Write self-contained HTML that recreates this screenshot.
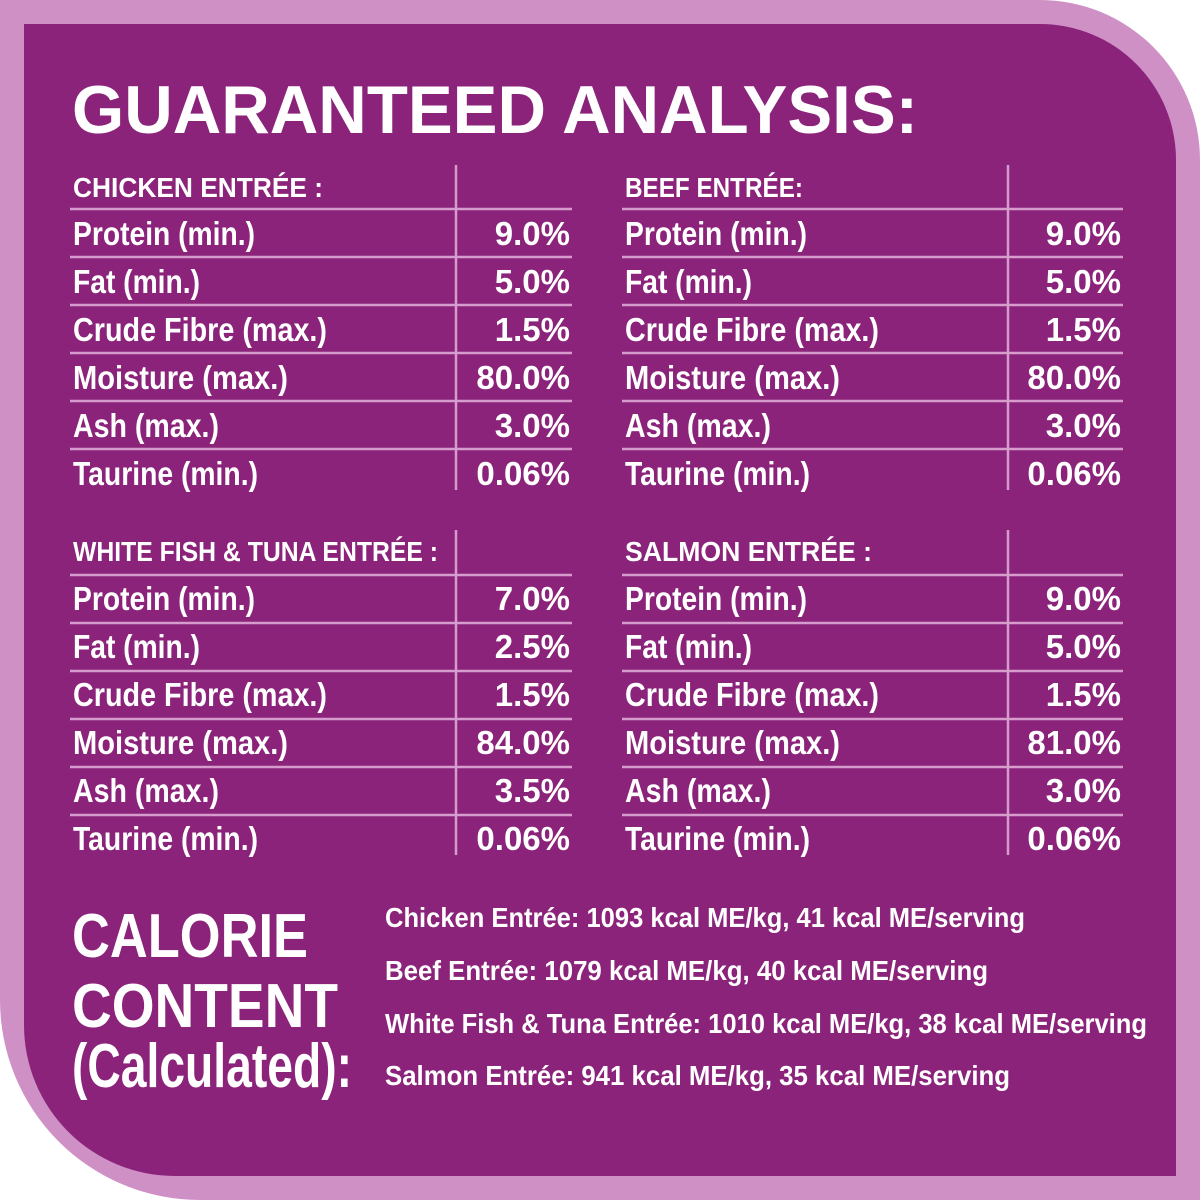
<!DOCTYPE html>
<html><head><meta charset="utf-8"><style>
html,body{margin:0;padding:0;background:#fff;}
svg{display:block;}
text{font-family:"Liberation Sans",sans-serif;fill:#fff;font-weight:bold;}
</style></head><body>
<svg width="1200" height="1200" viewBox="0 0 1200 1200" xmlns="http://www.w3.org/2000/svg">
<path d="M0,0 H1040 A160,160 0 0 1 1200,160 V1200 H200 A200,200 0 0 1 0,1000 Z" fill="#cf90c6"/>
<path d="M24,24 H1040 A136,136 0 0 1 1176,160 V1176 H175 A151,151 0 0 1 24,1025 Z" fill="#8b237a"/>
<text x="72" y="133" font-size="68" textLength="846" lengthAdjust="spacingAndGlyphs">GUARANTEED ANALYSIS:</text>
<g stroke="#d69bcd" stroke-width="2.5">
<line x1="456" y1="165" x2="456" y2="490"/><line x1="1008" y1="165" x2="1008" y2="490"/>
<line x1="456" y1="530" x2="456" y2="855"/><line x1="1008" y1="530" x2="1008" y2="855"/>
<line x1="70" y1="209" x2="572" y2="209"/><line x1="70" y1="257" x2="572" y2="257"/><line x1="70" y1="305" x2="572" y2="305"/><line x1="70" y1="353" x2="572" y2="353"/><line x1="70" y1="401" x2="572" y2="401"/><line x1="70" y1="449" x2="572" y2="449"/>
<line x1="622" y1="209" x2="1123" y2="209"/><line x1="622" y1="257" x2="1123" y2="257"/><line x1="622" y1="305" x2="1123" y2="305"/><line x1="622" y1="353" x2="1123" y2="353"/><line x1="622" y1="401" x2="1123" y2="401"/><line x1="622" y1="449" x2="1123" y2="449"/>
<line x1="70" y1="575" x2="572" y2="575"/><line x1="70" y1="623" x2="572" y2="623"/><line x1="70" y1="671" x2="572" y2="671"/><line x1="70" y1="719" x2="572" y2="719"/><line x1="70" y1="767" x2="572" y2="767"/><line x1="70" y1="815" x2="572" y2="815"/>
<line x1="622" y1="575" x2="1123" y2="575"/><line x1="622" y1="623" x2="1123" y2="623"/><line x1="622" y1="671" x2="1123" y2="671"/><line x1="622" y1="719" x2="1123" y2="719"/><line x1="622" y1="767" x2="1123" y2="767"/><line x1="622" y1="815" x2="1123" y2="815"/>
</g>
<g font-size="28">
<text x="73" y="197" textLength="250" lengthAdjust="spacingAndGlyphs">CHICKEN ENTRÉE :</text>
<text x="625" y="197" textLength="178" lengthAdjust="spacingAndGlyphs">BEEF ENTRÉE:</text>
<text x="73" y="561" textLength="365" lengthAdjust="spacingAndGlyphs">WHITE FISH &amp; TUNA ENTRÉE :</text>
<text x="625" y="561" textLength="247" lengthAdjust="spacingAndGlyphs">SALMON ENTRÉE :</text>
</g>
<g font-size="33">
<text x="73" y="245" textLength="182" lengthAdjust="spacingAndGlyphs">Protein (min.)</text>
<text x="73" y="293" textLength="127" lengthAdjust="spacingAndGlyphs">Fat (min.)</text>
<text x="73" y="341" textLength="254" lengthAdjust="spacingAndGlyphs">Crude Fibre (max.)</text>
<text x="73" y="389" textLength="215" lengthAdjust="spacingAndGlyphs">Moisture (max.)</text>
<text x="73" y="437" textLength="146" lengthAdjust="spacingAndGlyphs">Ash (max.)</text>
<text x="73" y="485" textLength="185" lengthAdjust="spacingAndGlyphs">Taurine (min.)</text>
<text x="625" y="245" textLength="182" lengthAdjust="spacingAndGlyphs">Protein (min.)</text>
<text x="625" y="293" textLength="127" lengthAdjust="spacingAndGlyphs">Fat (min.)</text>
<text x="625" y="341" textLength="254" lengthAdjust="spacingAndGlyphs">Crude Fibre (max.)</text>
<text x="625" y="389" textLength="215" lengthAdjust="spacingAndGlyphs">Moisture (max.)</text>
<text x="625" y="437" textLength="146" lengthAdjust="spacingAndGlyphs">Ash (max.)</text>
<text x="625" y="485" textLength="185" lengthAdjust="spacingAndGlyphs">Taurine (min.)</text>
<text x="73" y="610" textLength="182" lengthAdjust="spacingAndGlyphs">Protein (min.)</text>
<text x="73" y="658" textLength="127" lengthAdjust="spacingAndGlyphs">Fat (min.)</text>
<text x="73" y="706" textLength="254" lengthAdjust="spacingAndGlyphs">Crude Fibre (max.)</text>
<text x="73" y="754" textLength="215" lengthAdjust="spacingAndGlyphs">Moisture (max.)</text>
<text x="73" y="802" textLength="146" lengthAdjust="spacingAndGlyphs">Ash (max.)</text>
<text x="73" y="850" textLength="185" lengthAdjust="spacingAndGlyphs">Taurine (min.)</text>
<text x="625" y="610" textLength="182" lengthAdjust="spacingAndGlyphs">Protein (min.)</text>
<text x="625" y="658" textLength="127" lengthAdjust="spacingAndGlyphs">Fat (min.)</text>
<text x="625" y="706" textLength="254" lengthAdjust="spacingAndGlyphs">Crude Fibre (max.)</text>
<text x="625" y="754" textLength="215" lengthAdjust="spacingAndGlyphs">Moisture (max.)</text>
<text x="625" y="802" textLength="146" lengthAdjust="spacingAndGlyphs">Ash (max.)</text>
<text x="625" y="850" textLength="185" lengthAdjust="spacingAndGlyphs">Taurine (min.)</text>
</g>
<g font-size="33" text-anchor="end">
<text x="570" y="245">9.0%</text><text x="570" y="293">5.0%</text><text x="570" y="341">1.5%</text><text x="570" y="389">80.0%</text><text x="570" y="437">3.0%</text><text x="570" y="485">0.06%</text>
<text x="1121" y="245">9.0%</text><text x="1121" y="293">5.0%</text><text x="1121" y="341">1.5%</text><text x="1121" y="389">80.0%</text><text x="1121" y="437">3.0%</text><text x="1121" y="485">0.06%</text>
<text x="570" y="610">7.0%</text><text x="570" y="658">2.5%</text><text x="570" y="706">1.5%</text><text x="570" y="754">84.0%</text><text x="570" y="802">3.5%</text><text x="570" y="850">0.06%</text>
<text x="1121" y="610">9.0%</text><text x="1121" y="658">5.0%</text><text x="1121" y="706">1.5%</text><text x="1121" y="754">81.0%</text><text x="1121" y="802">3.0%</text><text x="1121" y="850">0.06%</text>
</g>
<g font-size="62">
<text x="72" y="957" textLength="236" lengthAdjust="spacingAndGlyphs">CALORIE</text>
<text x="72" y="1027" textLength="266" lengthAdjust="spacingAndGlyphs">CONTENT</text>
<text x="72" y="1087" textLength="280" lengthAdjust="spacingAndGlyphs">(Calculated):</text>
</g>
<g font-size="28" font-weight="normal">
<text x="385" y="927" textLength="640" lengthAdjust="spacingAndGlyphs">Chicken Entrée: 1093 kcal ME/kg, 41 kcal ME/serving</text>
<text x="385" y="980" textLength="603" lengthAdjust="spacingAndGlyphs">Beef Entrée: 1079 kcal ME/kg, 40 kcal ME/serving</text>
<text x="385" y="1033" textLength="762" lengthAdjust="spacingAndGlyphs">White Fish &amp; Tuna Entrée: 1010 kcal ME/kg, 38 kcal ME/serving</text>
<text x="385" y="1085" textLength="625" lengthAdjust="spacingAndGlyphs">Salmon Entrée: 941 kcal ME/kg, 35 kcal ME/serving</text>
</g>
</svg>
</body></html>
